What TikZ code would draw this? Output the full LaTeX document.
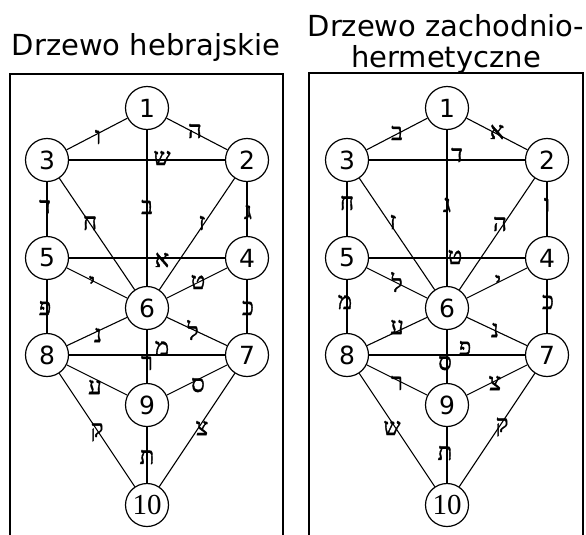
\documentclass[tikz,border=0pt]{standalone}
\usepackage{fontspec}
\setmainfont{DejaVu Sans}
\newfontfamily\hebfont[Script=Hebrew,FakeBold=1.5]{Liberation Serif}
\newfontfamily\numfont{Liberation Serif}
\begin{document}
\begin{tikzpicture}[x=1pt,y=-1pt,
  sef/.style={circle,draw,line width=1.2pt,minimum size=43pt,inner sep=0pt,font=\fontsize{25}{25}\selectfont},
  conn/.style={line width=1.1pt},
  heb/.style={inner sep=0pt,font=\hebfont\fontsize{24}{24}\selectfont},
  frame/.style={line width=2pt},
  title/.style={font=\fontsize{29}{30}\selectfont,anchor=base,inner sep=0pt}]
\useasboundingbox (0,0) rectangle (586,535);
\node[title] (t1) at (146,56) {Drzewo hebrajskie};
\node[title] (t2a) at (446,37) {Drzewo zachodnio-};
\node[title] (t2b) at (446,67) {hermetyczne};
\draw[frame] (9.5,74) rectangle (283,545);
\draw[frame] (309,73) rectangle (583,545);
\foreach \p/\dx in {L/0,R/300}{
  \begin{scope}[xshift=\dx pt]
    \foreach \n/\x/\y in {1/147/108,2/247/160,3/47/160,4/247/258,5/47/258,6/147/308,7/247/355,8/47/355,9/147/405}
      \node[sef] (\p\n) at (\x,\y) {\n};
    \node[sef,font=\numfont\fontsize{29}{29}\selectfont] (\p10) at (147,505) {10};
    \foreach \a/\b in {1/2,1/3,1/6,2/3,2/4,2/6,3/5,3/6,4/5,4/6,4/7,5/6,5/8,6/7,6/8,6/9,7/8,7/9,7/10,8/9,8/10,9/10}
      \draw[conn] (\p\a) -- (\p\b);
  \end{scope}
}
\foreach \c/\x/\y [count=\i] in {ה/195/131,ו/98/137,ש/162/158,ב/147/207,ג/248/212,ד/45/207,ח/90/223,ז/202/223,א/162/260,י/92/283,ט/198/282,פ/45/308,כ/248/308,נ/98/335,ל/193/330,מ/162/348,ר/147/363,ע/95/387,ס/198/385,ק/97/432,צ/202/428,ת/147/457}
  \node[heb] (hL\i) at (\x,\y) {\c};
\foreach \c/\x/\y [count=\i] in {ב/397/133,א/497/132,ד/457/155,ג/447/205,ח/347/203,ו/547/205,ז/393/222,ה/500/224,ט/455/257,ל/397/282,י/498/282,מ/345/302,כ/548/302,ע/397/327,נ/495/330,פ/465/348,ס/445/363,ר/397/383,צ/495/383,ש/392/428,ק/502/427,ת/445/453}
  \node[heb] (hR\i) at (\x,\y) {\c};
\end{tikzpicture}
\end{document}
